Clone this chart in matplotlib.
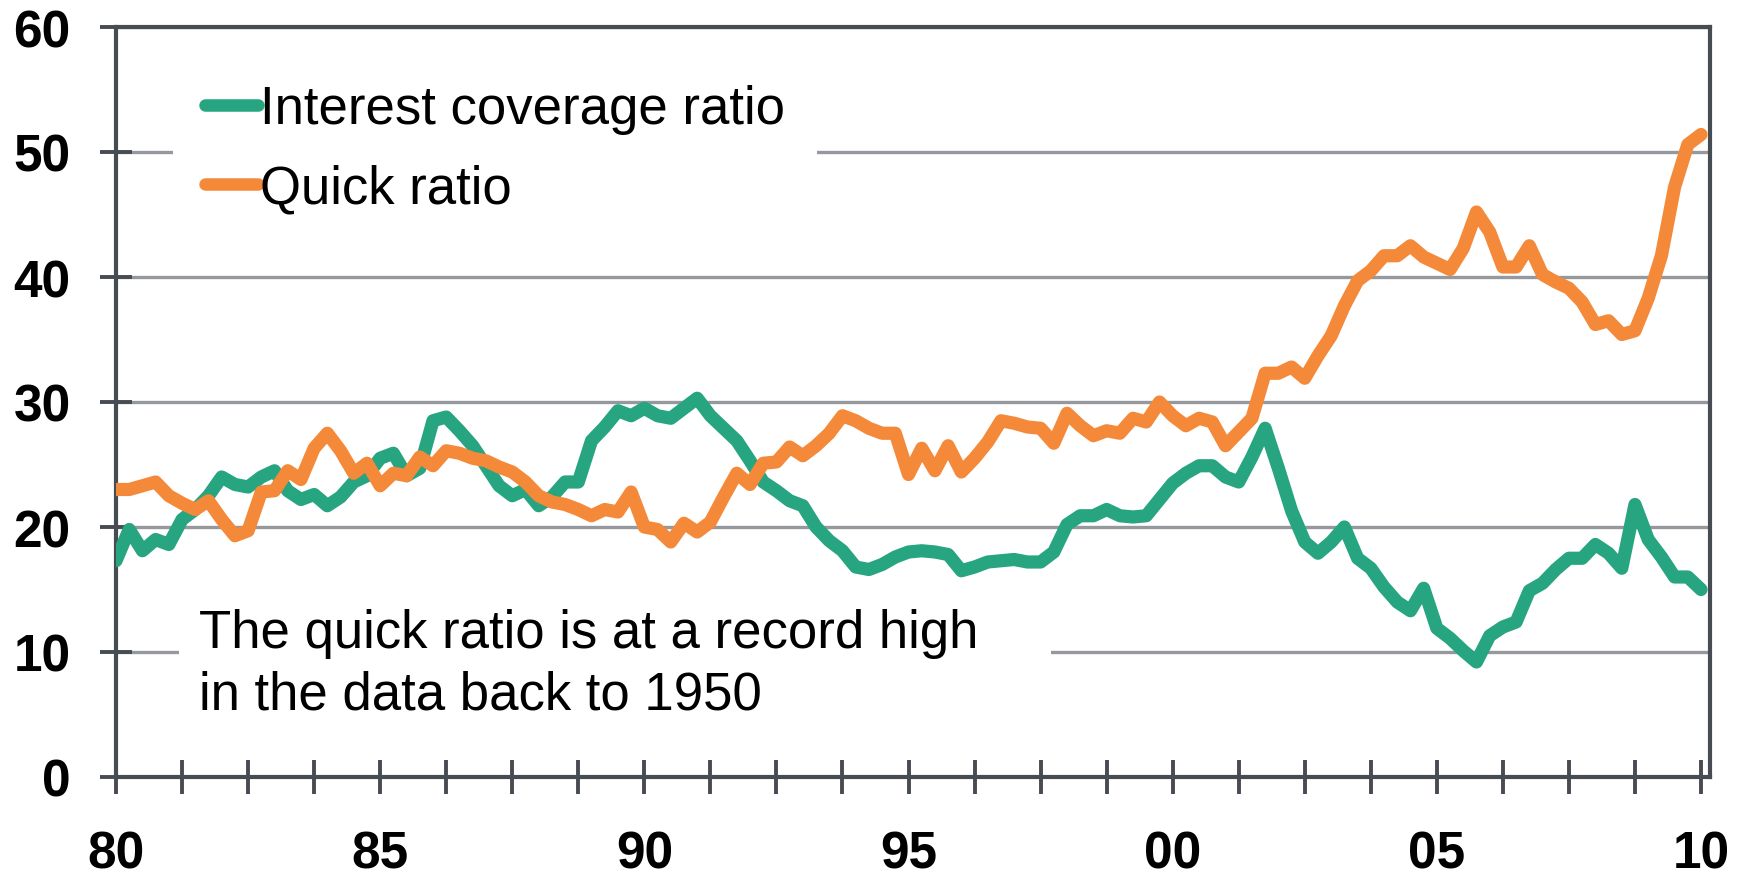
import numpy as np
import matplotlib.pyplot as plt
from matplotlib.patches import Rectangle

plt.rcParams['font.family'] = ['Liberation Sans', 'DejaVu Sans']

# quarterly, 1980Q1 .. 2010Q1
years = 1980 + np.arange(121) / 4.0

interest_cov = [17.3, 19.8, 18.1, 19.0, 18.6, 20.6, 21.4, 22.5, 24.0, 23.4, 23.2, 24.0, 24.5, 22.9, 22.2, 22.6, 21.7, 22.4, 23.6, 24.1, 25.5,
                25.9, 24.1, 24.7, 28.5, 28.8, 27.7, 26.5, 24.9, 23.3, 22.5, 23.0, 21.7, 22.4, 23.6, 23.6, 26.9, 28.0, 29.3, 28.9, 29.5,
                28.9, 28.7, 29.5, 30.3, 28.9, 27.9, 26.9, 25.3, 23.6, 22.9, 22.1, 21.7, 20.0, 18.9, 18.1, 16.8, 16.6, 17.0, 17.6, 18.0,
                18.1, 18.0, 17.8, 16.5, 16.8, 17.2, 17.3, 17.4, 17.2, 17.2, 18.0, 20.2, 20.9, 20.9, 21.4, 20.9, 20.8, 20.9, 22.2, 23.5,
                24.3, 24.9, 24.9, 24.0, 23.6, 25.6, 27.9, 24.7, 21.3, 18.8, 17.9, 18.8, 20.0, 17.5, 16.7, 15.2, 14.0, 13.3, 15.1, 11.9,
                11.1, 10.1, 9.2, 11.3, 12.0, 12.4, 14.9, 15.5, 16.6, 17.5, 17.5, 18.6, 17.9, 16.7, 21.8, 19.0, 17.6, 16.0, 16.0, 15.0]

quick_ratio = [23.0, 23.0, 23.3, 23.6, 22.5, 21.9, 21.4, 22.1, 20.6, 19.3, 19.7, 22.8, 22.9, 24.5, 23.8, 26.3, 27.5, 26.1, 24.3, 25.1, 23.3,
               24.3, 24.1, 25.6, 24.9, 26.1, 25.9, 25.5, 25.3, 24.8, 24.4, 23.6, 22.5, 22.0, 21.8, 21.4, 20.9, 21.4, 21.2, 22.8, 20.0,
               19.8, 18.8, 20.3, 19.6, 20.4, 22.4, 24.3, 23.4, 25.1, 25.2, 26.4, 25.7, 26.5, 27.5, 28.9, 28.5, 27.9, 27.5, 27.5, 24.2,
               26.3, 24.5, 26.5, 24.4, 25.5, 26.8, 28.5, 28.3, 28.0, 27.9, 26.7, 29.1, 28.1, 27.3, 27.7, 27.5, 28.7, 28.4, 30.0, 28.9,
               28.1, 28.7, 28.4, 26.5, 27.6, 28.7, 32.3, 32.3, 32.8, 31.9, 33.7, 35.3, 37.7, 39.7, 40.5, 41.7, 41.7, 42.5, 41.6, 41.1,
               40.6, 42.3, 45.2, 43.6, 40.8, 40.8, 42.5, 40.2, 39.6, 39.1, 38.0, 36.2, 36.5, 35.4, 35.7, 38.3, 41.7, 47.2, 50.6, 51.4]

x_ticks = 1980 + 1.25 * np.arange(25)
x_labels = ['80', '', '', '', '85', '', '', '', '90', '', '', '', '95', '', '', '',
            '00', '', '', '', '05', '', '', '', '10']
y_ticks = [0, 10, 20, 30, 40, 50, 60]

green = '#27a480'
orange = '#f5893a'
dark = '#474c52'
grid = '#95999d'

fig = plt.figure(figsize=(17.5, 8.78), dpi=100)
ax = fig.add_axes([116 / 1750, 1 - 778 / 878, 1594 / 1750, 750 / 878])

ax.plot(years, interest_cov, color=green, lw=9.5, solid_capstyle='round',
        solid_joinstyle='round', label='Interest coverage ratio', zorder=3)
ax.plot(years, quick_ratio, color=orange, lw=9.5, solid_capstyle='round',
        solid_joinstyle='round', label='Quick ratio', zorder=3)

ax.set_xlim(1980, 2010.17)
ax.set_ylim(0, 60)
ax.set_xticks(x_ticks)
ax.set_xticklabels(x_labels)
ax.set_yticks(y_ticks)
ax.set_yticklabels([str(v) for v in y_ticks])

ax.set_axisbelow(True)
ax.grid(axis='y', color=grid, lw=2.4)
ax.grid(axis='x', visible=False)

for s in ax.spines.values():
    s.set_color(dark)
    s.set_linewidth(3)

ax.tick_params(axis='both', direction='inout', color=dark, width=2.8,
               labelsize=37, labelcolor='black')
ax.tick_params(axis='x', length=25, pad=25)
ax.tick_params(axis='y', length=23, pad=21)
for lab in ax.get_xticklabels() + ax.get_yticklabels():
    lab.set_fontweight('bold')

# white boxes hiding the gridlines behind the texts
ax.add_patch(Rectangle((0.0395, 0.084), 0.547, 0.153, transform=ax.transAxes,
                       facecolor='white', edgecolor='none', zorder=1.5))

leg = ax.legend(loc='upper left', bbox_to_anchor=(0.0358, 0.966), borderaxespad=0,
                fontsize=38, frameon=True, fancybox=False, framealpha=1,
                facecolor='white', edgecolor='none', handlelength=1.0,
                handletextpad=0.05, borderpad=0.6, labelspacing=0.56)
for h in leg.get_lines():
    h.set_linewidth(9)

ax.text(0.052, 0.151, 'The quick ratio is at a record high\nin the data back to 1950',
        transform=ax.transAxes, fontsize=38, va='center', ha='left',
        linespacing=1.3, zorder=4)

fig.savefig('out.png', dpi=100, facecolor='white')
